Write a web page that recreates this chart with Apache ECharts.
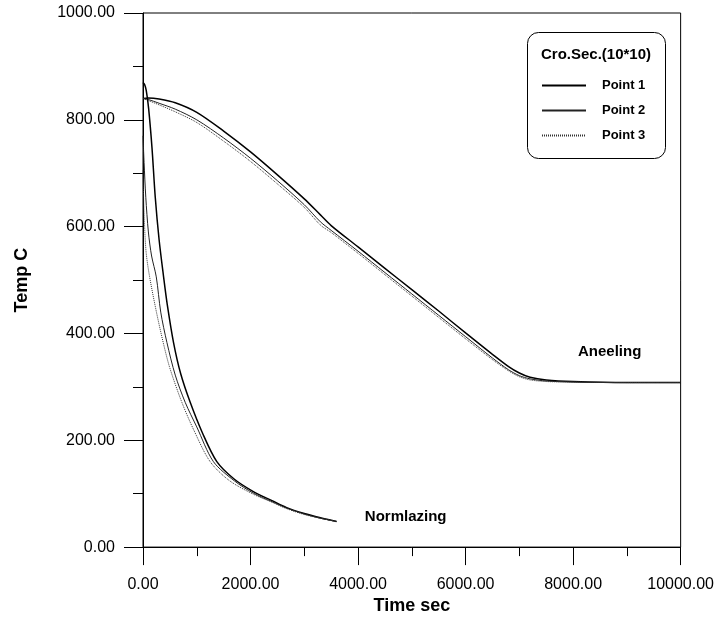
<!DOCTYPE html>
<html>
<head>
<meta charset="utf-8">
<script src="https://cdn.jsdelivr.net/npm/echarts@6/dist/echarts.min.js"></script>
<style>
html,body{margin:0;padding:0;background:#fff;}
#chart{width:717px;height:620px;}
</style>
</head>
<body>
<div id="chart"></div>
<script>
// ---- data ----
const seriesNames = ['Point 1', 'Point 2', 'Point 3'];
const legendTitle = 'Cro.Sec.(10*10)';
const xAxisName = 'Time sec';
const yAxisName = 'Temp C';
const annotAnneal = 'Aneeling';
const annotNorm = 'Normlazing';

// Annealing (slow cooling)
const annealTime = [0, 100, 300, 600, 1000, 1500, 2000, 2500, 3000, 3300, 3500, 4000, 4500, 5000, 5500, 6000, 6500, 6800, 7000, 7200, 7500, 8000, 9000, 10000];
const annealP1   = [840, 841, 839, 832, 814, 779, 740, 697, 652, 622, 602, 562, 522, 482, 442, 401, 361, 338, 326, 318, 313, 310, 308, 308];
const annealP2   = [840, 838, 831, 820, 800, 766, 728, 686, 641, 609, 593, 554, 514, 474, 434, 394, 354, 332, 321, 315, 311, 309, 308, 308];
const annealP3   = [840, 836, 828, 815, 795, 760, 722, 680, 636, 603, 589, 550, 510, 470, 430, 390, 351, 330, 319, 313, 310, 309, 308, 308];

// Normalizing (fast cooling)
const normTime1 = [0, 30, 60, 104, 167, 228, 300, 383, 450, 568, 700, 878, 1100, 1373, 1700, 2052, 2400, 2672, 3000, 3300, 3600];
const normP1    = [870, 866, 855, 822, 748, 655, 575, 506, 455, 383, 325, 271, 215, 160, 127, 104, 87, 74, 63, 55, 48];
const normTime2 = [0, 20, 52, 100, 160, 247, 330, 445, 600, 785, 1000, 1310, 1700, 2052, 2400, 2672, 3000, 3300, 3600];
const normP2    = [770, 720, 655, 590, 545, 506, 440, 383, 322, 271, 225, 160, 124, 101, 85, 73, 62, 54, 48];
const normTime3 = [0, 10, 30, 60, 123, 250, 383, 500, 723, 950, 1249, 1600, 2052, 2400, 2672, 3000, 3300, 3600];
const normP3    = [705, 660, 600, 550, 506, 440, 380, 335, 271, 218, 160, 125, 99, 84, 72, 61, 54, 48];

// axis ranges / ticks
const xMin = 0, xMax = 10000, xStep = 2000;
const yMin = 0, yMax = 1000, yStep = 200;

// ---- build ----
const FONT = '"Liberation Sans", Arial, Helvetica, sans-serif';
const pair = (t, v) => t.map((x, i) => [x, v[i]]);
const styles = [
  { color: '#000', width: 1.5, type: 'solid' },
  { color: '#222', width: 1, type: 'solid' },
  { color: '#333', width: 1, type: [1, 1] }
];
const curves = [
  [0, pair(annealTime, annealP1)], [1, pair(annealTime, annealP2)], [2, pair(annealTime, annealP3)],
  [0, pair(normTime1, normP1)], [1, pair(normTime2, normP2)], [2, pair(normTime3, normP3)]
];
const series = curves.map(([k, data]) => ({
  name: seriesNames[k],
  type: 'line',
  data: data,
  symbol: 'none',
  showSymbol: false,
  smooth: 0.3,
  lineStyle: { color: styles[k].color, width: styles[k].width, type: styles[k].type },
  itemStyle: { color: styles[k].color },
  z: 2
}));
series.push({
  type: 'scatter',
  data: [],
  silent: true,
  markPoint: {
    symbol: 'circle', symbolSize: 0,
    label: { show: true, position: 'inside', color: '#000', fontFamily: FONT, fontWeight: 'bold', fontSize: 15, formatter: p => p.name },
    data: [
      { name: annotAnneal, coord: [8680, 365] },
      { name: annotNorm, coord: [4885, 57] }
    ]
  }
});

const chart = echarts.init(document.getElementById('chart'), null, { renderer: 'canvas' });
chart.setOption({
  animation: false,
  backgroundColor: '#fff',
  grid: { left: 143, right: 35, top: 13, bottom: 67, show: true, borderColor: '#000', borderWidth: 1, backgroundColor: 'transparent' },
  xAxis: {
    type: 'value', min: xMin, max: xMax, interval: xStep,
    name: xAxisName, nameLocation: 'middle', nameGap: 46,
    nameTextStyle: { fontFamily: FONT, fontWeight: 'bold', fontSize: 18, color: '#000' },
    axisLine: { show: true, lineStyle: { color: '#000', width: 1 } },
    axisTick: { show: true, length: 18, lineStyle: { color: '#000' } },
    minorTick: { show: true, splitNumber: 2, length: 9, lineStyle: { color: '#000' } },
    splitLine: { show: false },
    axisLabel: { margin: 29, fontFamily: FONT, fontSize: 16, color: '#000', formatter: v => v.toFixed(2), showMinLabel: true, showMaxLabel: true }
  },
  yAxis: {
    type: 'value', min: yMin, max: yMax, interval: yStep,
    name: yAxisName, nameLocation: 'middle', nameGap: 112,
    nameTextStyle: { fontFamily: FONT, fontWeight: 'bold', fontSize: 18, color: '#000' },
    axisLine: { show: true, lineStyle: { color: '#000', width: 1 } },
    axisTick: { show: true, length: 19, lineStyle: { color: '#000' } },
    minorTick: { show: true, splitNumber: 2, length: 10, lineStyle: { color: '#000' } },
    splitLine: { show: false },
    axisLabel: { margin: 28, fontFamily: FONT, fontSize: 16, color: '#000', formatter: v => v.toFixed(2), showMinLabel: true, showMaxLabel: true }
  },
  legend: {
    data: seriesNames,
    orient: 'vertical',
    left: 541, top: 79,
    itemWidth: 44, itemHeight: 14, itemGap: 12,
    padding: 0,
    selectedMode: false,
    itemStyle: { color: 'rgba(0,0,0,0)', borderWidth: 0, opacity: 0 },
    textStyle: { fontFamily: FONT, fontWeight: 'bold', fontSize: 13, color: '#000', padding: [0, 0, 0, 11] },
    z: 10
  },
  graphic: [
    { type: 'rect', z: 5, shape: { x: 527.5, y: 32.5, width: 138, height: 126, r: 11 }, style: { fill: '#fff', stroke: '#000', lineWidth: 1 } },
    { type: 'text', z: 6, x: 596, y: 55, style: { text: legendTitle, font: 'bold 15px ' + FONT, fill: '#000', textAlign: 'center', textVerticalAlign: 'middle' } }
  ],
  series: series
});
</script>
</body>
</html>
